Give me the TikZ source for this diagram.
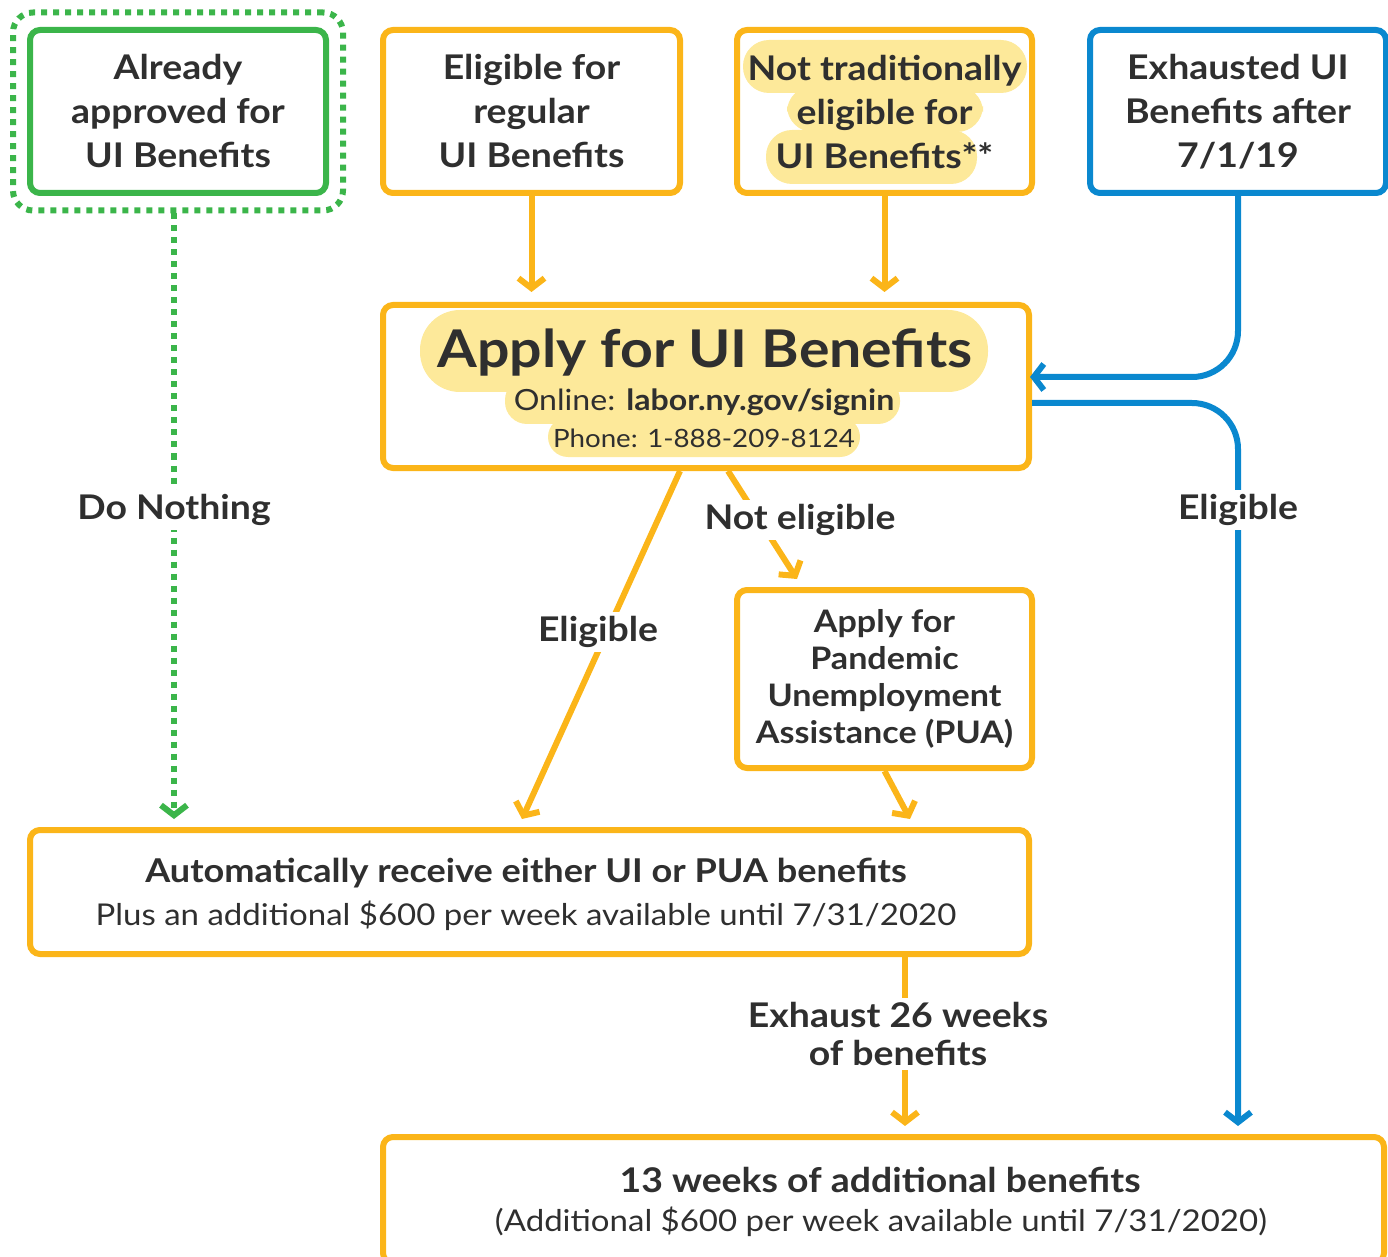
\documentclass[tikz,border=0pt]{standalone}
\usepackage{fontspec}
\setmainfont{Lato}[FakeStretch=1.1]
\usetikzlibrary{arrows.meta,calc}
\definecolor{ylw}{HTML}{FBB519}
\definecolor{blu}{HTML}{0A88CF}
\definecolor{grn}{HTML}{3BB54A}
\definecolor{hl}{HTML}{FDE99A}
\definecolor{txt}{HTML}{2F2F2F}
\begin{document}
\begin{tikzpicture}[x=0.5pt,y=-0.5pt,
  box/.style={draw=#1, line width=3pt, rounded corners=5pt, align=center, inner sep=0pt, text=txt},
  box/.default=ylw,
  topfont/.style={font=\fontsize{17}{22}\selectfont\bfseries},
  lbl/.style={fill=white, text=txt, inner sep=2pt, align=center, font=\fontsize{17}{19}\selectfont\bfseries},
  yarr/.style={draw=ylw, line width=3pt, -{Straight Barb[length=5pt,width=13pt]}},
  barr/.style={draw=blu, line width=3pt, rounded corners=23pt, -{Straight Barb[length=5pt,width=13pt]}},
  garr/.style={draw=grn, line width=3pt, dash pattern=on 3pt off 3pt, -{Straight Barb[length=5pt,width=13pt]}},
]
\useasboundingbox (0,0) rectangle (1388,1257);
% highlights
\fill[hl,rounded corners=13pt] (743,40) rectangle (1027,93);
\fill[hl,rounded corners=13pt] (787,86) rectangle (983,132);
\fill[hl,rounded corners=13pt] (766,130) rectangle (977,184);
\fill[hl,rounded corners=20pt] (420,310) rectangle (988,392);
\fill[hl,rounded corners=11pt] (505,378) rectangle (900,424);
\fill[hl,rounded corners=10pt] (548,417) rectangle (860,457);
% top boxes
\node[box=grn, topfont, minimum width=148pt, minimum height=81.5pt] (n1) at (178,111.5) {Already\\approved for\\UI Benefits};
\node[draw=grn, line width=3pt, dash pattern=on 3pt off 3pt, rounded corners=10pt, minimum width=165pt, minimum height=99pt] (n1out) at (178,111.5) {};
\node[box, topfont, minimum width=148.5pt, minimum height=81.5pt] (n2) at (531.5,111.5) {Eligible for\\regular\\UI Benefits};
\node[box, topfont, minimum width=147.5pt, minimum height=81.5pt] (n3) at (884.5,111.5) {Not traditionally\\eligible for\\UI Benefits**};
\node[box=blu, topfont, minimum width=148pt, minimum height=81.5pt] (n4) at (1238,111.5) {Exhausted UI\\Benefits after\\7/1/19};
% apply box
\node[box, minimum width=323pt, minimum height=81.5pt] (apply) at (706,386.5) {};
\node[text=txt, font=\fontsize{26}{28}\selectfont\bfseries, inner sep=0pt] (t1) at (705,352) {Apply for UI Benefits};
\node[text=txt, font=\fontsize{14.6}{16}\selectfont, inner sep=0pt] (t2) at (704,402) {Online: \textbf{labor.ny.gov/signin}};
\node[text=txt, font=\fontsize{12.6}{16}\selectfont, inner sep=0pt] (t3) at (704,438) {Phone: 1-888-209-8124};
% PUA
\node[box, font=\fontsize{15.5}{18.5}\selectfont\bfseries, minimum width=147.5pt, minimum height=89pt] (pua) at (884.5,679) {Apply for\\Pandemic\\Unemployment\\Assistance (PUA)};
% auto
\node[box, minimum width=499.5pt, minimum height=62pt] (auto) at (529.5,892) {};
\node[text=txt, font=\fontsize{16.4}{18}\selectfont\bfseries, inner sep=0pt] (a1) at (526,873) {Automatically receive either UI or PUA benefits};
\node[text=txt, font=\fontsize{15}{18}\selectfont, inner sep=0pt] (a2) at (526,916) {Plus an additional \$600 per week available until 7/31/2020};
% final
\node[box, minimum width=500.5pt, minimum height=63pt] (final) at (883.5,1200) {};
\node[text=txt, font=\fontsize{17}{18}\selectfont\bfseries, inner sep=0pt] (f1) at (880,1180) {13 weeks of additional benefits};
\node[text=txt, font=\fontsize{15}{18}\selectfont, inner sep=0pt] (f2) at (881,1222) {(Additional \$600 per week available until 7/31/2020)};
% connectors
\draw[yarr, shorten >=5pt] (n2.south) -- (n2.south |- apply.north);
\draw[yarr, shorten >=5pt] (n3.south) -- (n3.south |- apply.north);
\draw[barr] (n4.south) |- ([yshift=4.75pt,xshift=-1pt]apply.east);
\draw[barr, shorten >=4pt] ([yshift=-8.25pt]apply.east) -| (final.north -| n4.south);
\node[lbl] (le1) at (1238,510) {Eligible};
\draw[garr] ([xshift=-2pt]n1out.south) -- ([xshift=-2pt,yshift=4pt]n1out.south |- auto.north);
\node[lbl] (ldn) at (174,510) {Do Nothing};
\draw[yarr] ([xshift=-13pt]apply.south) -- ([xshift=-3.75pt,yshift=4pt]auto.north);
\node[lbl] (le2) at (598,632) {Eligible};
\draw[yarr] ([xshift=11pt]apply.south) -- ([xshift=-43.75pt,yshift=4pt]pua.north);
\node[lbl] (lne) at (800,520) {Not eligible};
\draw[yarr] (pua.south) -- ([xshift=190.25pt,yshift=4pt]auto.north);
\draw[yarr, shorten >=4pt] ([xshift=187.75pt]auto.south) -- ([xshift=187.75pt]auto.south |- final.north);
\node[lbl] (lex) at (898,1034) {Exhaust 26 weeks\\of benefits};
\end{tikzpicture}
\end{document}
